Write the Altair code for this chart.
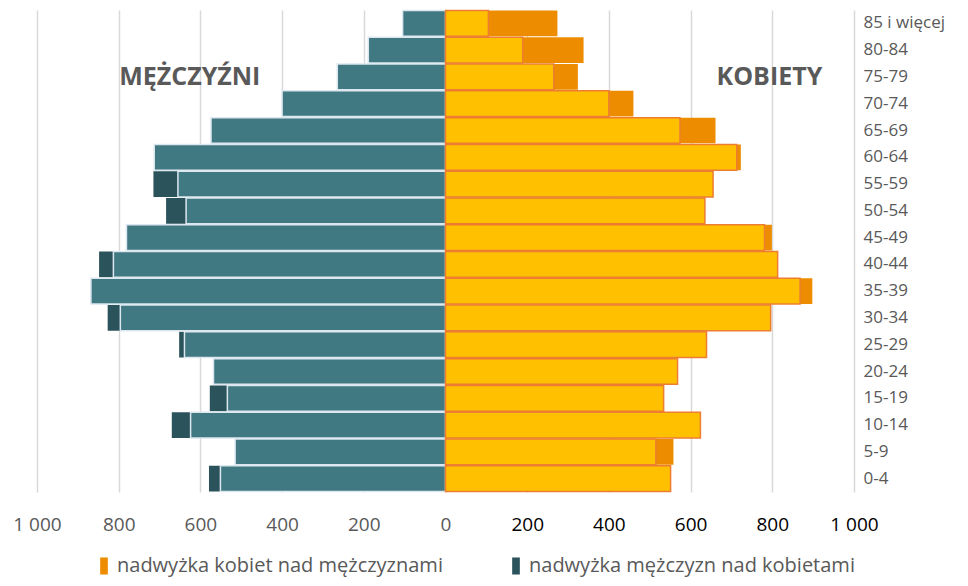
import altair as alt
import pandas as pd

ages = ["0-4", "5-9", "10-14", "15-19", "20-24", "25-29", "30-34", "35-39", "40-44",
        "45-49", "50-54", "55-59", "60-64", "65-69", "70-74", "75-79", "80-84", "85 i więcej"]
men = [579, 515, 670, 577, 568, 652, 827, 868, 848, 781, 684, 715, 713, 574, 400, 265, 189, 105]
women = [551, 558, 624, 534, 568, 639, 796, 898, 813, 799, 635, 655, 723, 661, 460, 324, 338, 274]

legend_labels = ["nadwyżka kobiet nad mężczyznami", "nadwyżka mężczyzn nad kobietami"]
ticks = [-1000, -800, -600, -400, -200, 0, 200, 400, 600, 800, 1000]

ann_text = ["MĘŻCZYŹNI", "KOBIETY"]
ann_x = [-626, 793]
ann_age = ["75-79", "75-79"]

TEAL = "#417983"
DARK = "#2B535B"
YELLOW = "#FFC000"
ORANGE = "#EE8C00"
BORDER_W = "#ED7D31"
BORDER_M = "#DDE7F0"
GREY = "#595959"

common = [min(a, b) for a, b in zip(men, women)]
df = pd.DataFrame({
    "age": ages,
    "men_neg": [-v for v in men],
    "common_neg": [-v for v in common],
    "common": common,
    "women": women,
    "zero": [0] * len(ages),
})
ann = pd.DataFrame({"text": ann_text, "x": ann_x, "age": ann_age})

order = list(reversed(ages))
yscale = alt.Scale(domain=order, paddingInner=0.04, paddingOuter=0.02)
xscale = alt.Scale(domain=[-1000, 1000], nice=False)

yenc = alt.Y("age:N", sort=order, scale=yscale,
             axis=alt.Axis(orient="right", title=None, domain=False, ticks=False,
                           labelPadding=9, labelFontSize=17, labelColor=GREY,
                           labelFont="Open Sans", grid=False))
xaxis = alt.Axis(title=None, values=ticks, grid=True, gridColor="#D9D9D9", gridWidth=1.5,
                 domain=False, ticks=False, labelPadding=23, labelFontSize=19,
                 labelFont="Open Sans", labelFlush=False, labelOverlap=False,
                 labelColor={"condition": {"test": "datum.value <= 0", "value": GREY}, "value": "#000000"},
                 labelExpr="replace(format(abs(datum.value), ',d'), ',', ' ')")

base = alt.Chart(df)
color = alt.Color("kind:N", scale=alt.Scale(domain=legend_labels, range=[ORANGE, DARK]),
                  legend=alt.Legend(title=None, orient="none", legendX=57, legendY=546,
                                    direction="horizontal", symbolType="M-0.45,-1L0.45,-1L0.45,1L-0.45,1Z",
                                    symbolSize=290, symbolStrokeWidth=0, labelFontSize=20,
                                    labelFont="Open Sans", labelColor=GREY, columnPadding=63,
                                    labelOffset=3, labelLimit=500))

men_full = base.transform_calculate(kind=f"'{legend_labels[1]}'").mark_bar(stroke=None).encode(
    x=alt.X("men_neg:Q", scale=xscale, axis=xaxis), x2="zero:Q", y=yenc, color=color)
women_full = base.transform_calculate(kind=f"'{legend_labels[0]}'").mark_bar(stroke=None).encode(
    x=alt.X("women:Q", scale=xscale), x2="zero:Q", y=yenc, color=color)
men_common = base.mark_bar(color=TEAL, stroke=BORDER_M, strokeWidth=1.5).encode(
    x=alt.X("common_neg:Q", scale=xscale), x2="zero:Q", y=yenc)
women_common = base.mark_bar(color=YELLOW, stroke=BORDER_W, strokeWidth=1.5).encode(
    x=alt.X("common:Q", scale=xscale), x2="zero:Q", y=yenc)

labels = alt.Chart(ann).mark_text(fontSize=25, fontWeight="bold", font="Open Sans", color=GREY).encode(
    x=alt.X("x:Q", scale=xscale), y=alt.Y("age:N", sort=order, scale=yscale), text="text:N")

chart = alt.layer(men_full, women_full, men_common, women_common, labels).properties(
    width=817, height=482, autosize="none",
    padding={"left": 29, "top": 2, "right": 106, "bottom": 90},
).configure_view(stroke=None)

chart.save("out.html", embed_options={"renderer": "svg", "actions": False})
